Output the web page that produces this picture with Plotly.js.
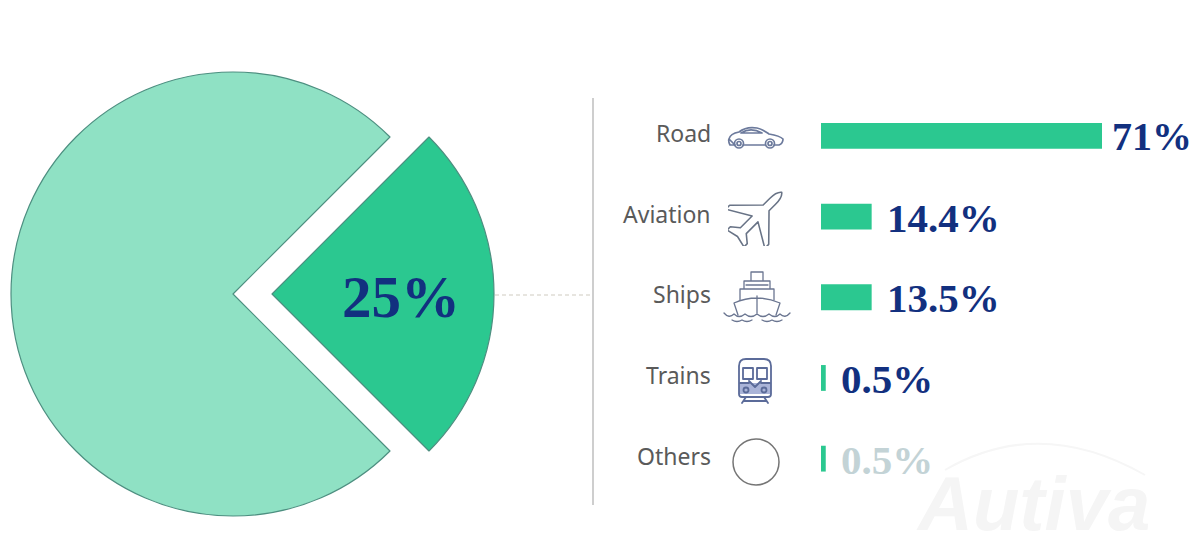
<!DOCTYPE html>
<html>
<head>
<meta charset="utf-8">
<script src="https://cdn.plot.ly/plotly-3.0.1.min.js"></script>
<style>html,body{margin:0;padding:0;background:#fff}#chart{width:1200px;height:560px}</style>
</head>
<body>
<div id="chart"></div>
<script>
// Pie shares
var pieLabels = ['Transport', 'Other sectors'];
var pieValues = [25, 75];
var pieLabelText = '25%';

// Breakdown: bar lengths as drawn in the picture (they are not proportional to the printed labels)
var categories = ['Road', 'Aviation', 'Ships', 'Trains', 'Others'];
var barLengths = [71, 12.8, 12.8, 1.2, 1.2];
var valueLabels = ['71%', '14.4%', '13.5%', '0.5%', '0.5%'];

var W = 1200, H = 560;
function px(x) { return x / W; }
function py(y) { return 1 - y / H; }

var DARK = '#2bc890', LIGHT = '#8fe1c4', EDGE = '#4d8f80', NAVY = '#12307f', GREY = '#5a5a5a';

function svg(w, h, body) {
  return 'data:image/svg+xml;utf8,' + encodeURIComponent(
    '<svg xmlns="http://www.w3.org/2000/svg" width="' + w + '" height="' + h + '" viewBox="0 0 ' + w + ' ' + h + '">' + body + '</svg>');
}
var S = 'fill="none" stroke-linejoin="round" stroke-linecap="round"';
var iconCar = svg(58, 26,
  '<g ' + S + ' stroke="#6c7a9c" stroke-width="1.700">' +
  '<path d="M2 14 C3 10 6 8 12 7 C17 3 24 2 30 3 C35 4 39 7 42 9 C48 10 53 11 56 14 C56 17 55 19 52 20 L47 20 M38 20 L16 20 M8 20 L3 20 C2 18 1 16 2 14Z"/>' +
  '<path d="M14 8 C20 4 28 4 35 8 Z"/><circle cx="12" cy="18.500" r="4.500"/><circle cx="12" cy="18.500" r="2"/><circle cx="43" cy="18.500" r="4.500"/><circle cx="43" cy="18.500" r="2"/></g>');
var iconPlane = svg(58, 58,
  '<g transform="translate(29 29) rotate(-45) scale(.92)" ' + S + ' stroke="#687386" stroke-width="1.700">' +
  '<path d="M38 0 C35 -4 29 -4.500 24 -4.500 L14 -4.500 L-12 -30 L-18 -30 L-3 -4.500 L-21 -4.500 L-28 -13 L-33 -13 L-30 0 L-33 13 L-28 13 L-21 4.500 L-3 4.500 L-18 30 L-12 30 L14 4.500 L24 4.500 C29 4.500 35 4 38 0Z"/></g>');
var iconShip = svg(70, 54,
  '<g ' + S + ' stroke="#6b7691" stroke-width="1.300">' +
  '<path d="M12 34 L16 46 M58 34 L54 46 M12 34 Q35 24 58 34 M35 27 L35 44"/>' +
  '<path d="M18 31 L18 20 L52 20 L52 31 M22 20 L22 12 L48 12 L48 20 M29 12 L29 3 L41 3 L41 12 M24 16 L46 16"/>' +
  '<path d="M2 44 Q7 50 12 45 Q17 50 23 45 Q29 50 35 45 Q41 50 47 45 Q53 50 58 45 Q63 50 68 44"/>' +
  '<path d="M10 51 Q15 54 20 51 Q25 54 30 51 M40 51 Q45 54 50 51 Q55 54 60 51"/></g>');
var iconTrain = svg(36, 48,
  '<path d="M2 26 L34 26 L34 37 L2 37Z" fill="#aab4d8"/>' +
  '<g ' + S + ' stroke="#5b6b99" stroke-width="1.800">' +
  '<path d="M2 9 Q2 2 9 2 L27 2 Q34 2 34 9 L34 37 Q34 40 31 40 L5 40 Q2 40 2 37Z"/>' +
  '<path d="M6 11 L16 11 L16 22 L6 22Z M20 11 L30 11 L30 22 L20 22Z M12 24 L18 30 L24 24 M3 26 L12 26 M24 26 L33 26"/>' +
  '<circle cx="9" cy="33" r="2.500"/><circle cx="27" cy="33" r="2.500"/>' +
  '<path d="M9 40 L5 46 M27 40 L31 46 M7 44 L29 44"/></g>');
var iconCircle = svg(50, 50, '<circle cx="25" cy="25" r="23" fill="none" stroke="#757575" stroke-width="1.500"/>');

function icon(src, x, y, w, h) {
  return { source: src, xref: 'paper', yref: 'paper', x: px(x), y: py(y), sizex: w / W, sizey: h / H,
           xanchor: 'left', yanchor: 'top', sizing: 'stretch', layer: 'above' };
}

var pieDomainY = [py(516), py(72)];
var common = { type: 'pie', sort: false, direction: 'clockwise', textinfo: 'none', hoverinfo: 'skip', showlegend: false };

var pieSmall = Object.assign({}, common, {
  labels: pieLabels, values: pieValues, rotation: 45,
  domain: { x: [px(50), px(494)], y: pieDomainY },
  marker: { colors: [DARK, 'rgba(0,0,0,0)'], line: { color: [EDGE, 'rgba(0,0,0,0)'], width: [1.2, 0] } }
});
var pieLarge = Object.assign({}, common, {
  labels: pieLabels, values: pieValues, rotation: 45,
  domain: { x: [px(11), px(455)], y: pieDomainY },
  marker: { colors: ['rgba(0,0,0,0)', LIGHT], line: { color: ['rgba(0,0,0,0)', EDGE], width: [0, 1.2] } }
});
var bars = {
  type: 'bar', orientation: 'h', x: barLengths, y: categories, width: 0.32,
  marker: { color: DARK }, hoverinfo: 'skip', showlegend: false
};

var annotations = [];
var standoff = [8, 13, 13, 13, 13];
var labelColors = [NAVY, NAVY, NAVY, NAVY, '#c3d3d6'];
var labelSizes = [40, 41, 41, 41, 41];

// Watermark goes first so the value labels sit on top of it
annotations.push({ xref: 'paper', yref: 'paper', x: px(1033), y: py(503), xanchor: 'center', yanchor: 'middle', text: '<b><i>Autiva</i></b>', showarrow: false,
  font: { family: 'Liberation Sans', size: 76, color: '#f5f5f5' } });

categories.forEach(function (c, i) {
  annotations.push({ xref: 'paper', yref: 'y', x: px(713), y: c, yshift: 3, text: c, showarrow: false, xanchor: 'right', yanchor: 'middle',
    font: { family: 'Noto Sans', size: 23, color: GREY } });
  annotations.push({ xref: 'x', yref: 'y', x: barLengths[i], y: c, xshift: standoff[i], yshift: -1, text: valueLabels[i], showarrow: false,
    xanchor: 'left', yanchor: 'middle', font: { family: 'Liberation Serif', size: labelSizes[i], color: labelColors[i], weight: 700 } });
});
annotations.push({ xref: 'paper', yref: 'paper', x: px(401), y: py(297), xanchor: 'center', yanchor: 'middle', text: pieLabelText, showarrow: false,
  font: { family: 'Liberation Serif', size: 59, color: NAVY, weight: 700 } });

var layout = {
  width: W, height: H, autosize: false,
  margin: { l: 0, r: 0, t: 0, b: 0 },
  paper_bgcolor: '#ffffff', plot_bgcolor: 'rgba(0,0,0,0)',
  xaxis: { domain: [px(821), px(1102)], range: [0, 71], visible: false, fixedrange: true },
  yaxis: { domain: [py(499), py(95.5)], type: 'category', categoryorder: 'array', categoryarray: categories,
           autorange: false, range: [4.5, -0.5], visible: false, fixedrange: true },
  annotations: annotations,
  shapes: [
    { type: 'line', xref: 'paper', yref: 'paper', x0: px(593), x1: px(593), y0: py(98), y1: py(505), line: { color: '#b4b4b4', width: 1.300 } },
    { type: 'line', xref: 'paper', yref: 'paper', x0: px(495), x1: px(593), y0: py(295), y1: py(295), line: { color: '#cfcbc0', width: 1, dash: '4px,3px' } },
    { type: 'path', xref: 'paper', yref: 'paper',
      path: 'M' + px(945) + ' ' + py(470) + ' Q' + px(1040) + ' ' + py(415) + ' ' + px(1145) + ' ' + py(475),
      line: { color: '#f6f6f6', width: 2 } }
  ],
  images: [
    icon(iconCar, 727, 125, 58, 26),
    icon(iconPlane, 728, 188, 58, 58),
    icon(iconShip, 722, 269, 70, 54),
    icon(iconTrain, 737, 357, 36, 48),
    icon(iconCircle, 731, 437, 50, 50)
  ]
};

Plotly.newPlot('chart', [pieLarge, pieSmall, bars], layout, { displayModeBar: false, staticPlot: true });
</script>
</body>
</html>
